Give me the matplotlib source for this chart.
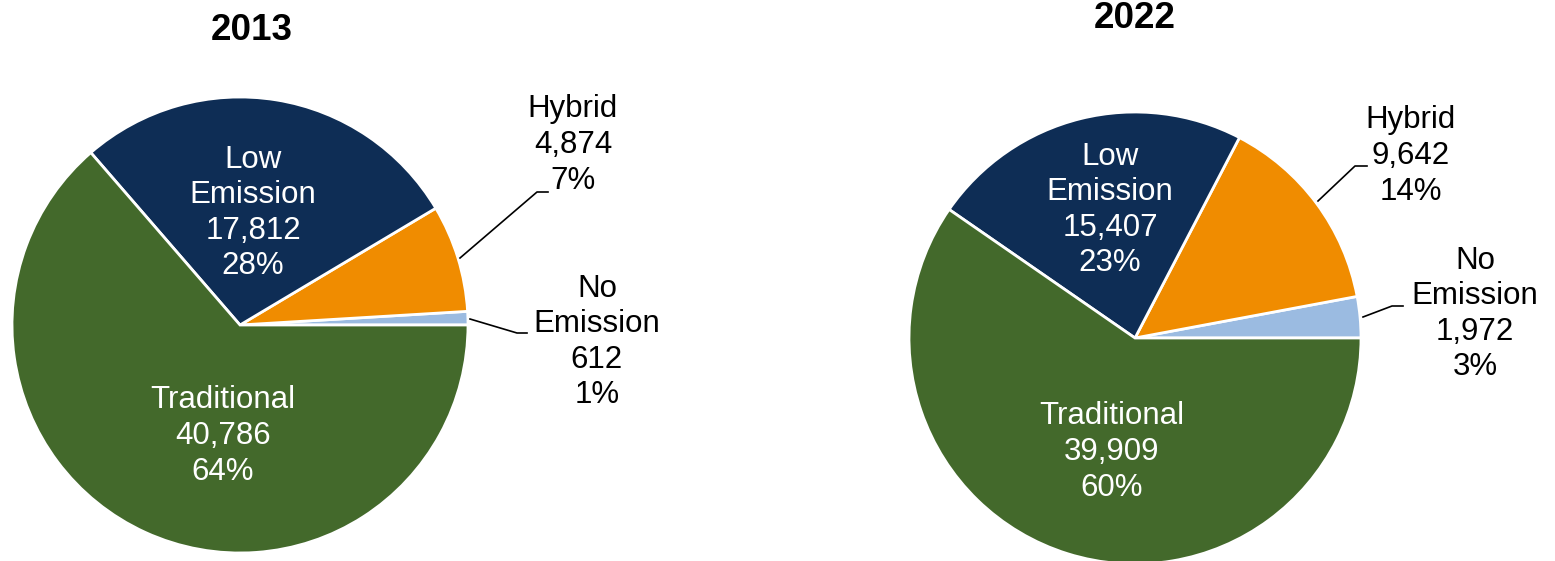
import matplotlib
matplotlib.use("Agg")
import matplotlib.pyplot as plt

plt.rcParams['font.family'] = ['Liberation Sans', 'DejaVu Sans']

# Data (order: counter-clockwise from 3 o'clock)
categories = ["No\nEmission", "Hybrid", "Low\nEmission", "Traditional"]
years = ["2013", "2022"]
counts_2013 = [612, 4874, 17812, 40786]
counts_2022 = [1972, 9642, 15407, 39909]
pct_2013 = [1, 7, 28, 64]
pct_2022 = [3, 14, 23, 60]

colors = ["#9BBBE1", "#F08C00", "#0E2D55", "#43692B"]
text_colors = ["black", "black", "white", "white"]

W, H = 1555, 561
fig = plt.figure(figsize=(W / 100, H / 100), dpi=100)
ax = fig.add_axes([0, 0, 1, 1])

# Layout in pixel coordinates (y measured from the top)
layouts = [
    dict(center=(240, 325), radius=228, title=(252, 30),
         labels=[(597, 342), (573, 145), (253, 213), (223, 436)],
         leaders={0: [(470, 319), (517, 333), (527, 333)],
                  1: [(460, 258), (537, 192), (548, 192)]}),
    dict(center=(1135, 338), radius=226, title=(1135, 18),
         labels=[(1475, 314), (1411, 156), (1110, 210), (1112, 452)],
         leaders={0: [(1363, 317), (1392, 306), (1403, 306)],
                  1: [(1318, 201), (1355, 166), (1367, 166)]}),
]

for year, counts, pcts, lay in zip(years, [counts_2013, counts_2022],
                                   [pct_2013, pct_2022], layouts):
    cx, cy = lay["center"]
    ax.pie(counts, colors=colors, startangle=0, counterclock=True,
           center=(cx, H - cy), radius=lay["radius"], frame=True,
           wedgeprops=dict(edgecolor="white", linewidth=2.0))
    tx, ty = lay["title"]
    ax.text(tx, H - ty, year, ha="center", va="center",
            fontsize=26.5, fontweight="bold")
    for i, (cat, n, p) in enumerate(zip(categories, counts, pcts)):
        lx, ly = lay["labels"][i]
        ax.text(lx, H - ly, f"{cat}\n{n:,}\n{p}%", ha="center", va="center",
                fontsize=22.5, color=text_colors[i], linespacing=1.24)
    for pts in lay["leaders"].values():
        xs = [p[0] for p in pts]
        ys = [H - p[1] for p in pts]
        ax.plot(xs, ys, color="black", linewidth=1.2)

ax.set_xlim(0, W)
ax.set_ylim(0, H)
ax.set_aspect("auto")
ax.axis("off")

fig.savefig("out.png", dpi=100)
